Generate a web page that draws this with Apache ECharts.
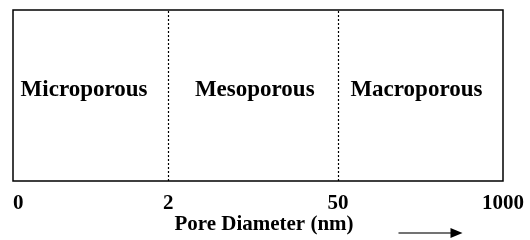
<!DOCTYPE html>
<html>
<head>
<meta charset="utf-8">
<script src="https://cdn.jsdelivr.net/npm/echarts@6/dist/echarts.min.js"></script>
<style>
  html, body { margin: 0; padding: 0; background: #fff; }
  #chart { width: 530px; height: 240px; }
</style>
</head>
<body>
<div id="chart"></div>
<script>
// boundaries of the pore size classes (nm); the drawing is schematic,
// so each boundary gets a position along the axis
const tickLabels = ["0", "2", "50", "1000"];
const tickPositions = [0, 0.95, 1.99, 3];
const regionNames = ["Microporous", "Mesoporous", "Macroporous"];
const regionX = [0.435, 1.48, 2.47];
const regionY = [0.53, 0.53, 0.53];
const axisTitle = "Pore Diameter (nm)";

const serif = "'Liberation Serif', 'Times New Roman', serif";

const chart = echarts.init(document.getElementById("chart"));

const regionData = regionNames.map((name, i) => ({
  name: name,
  value: [regionX[i], regionY[i]],
}));

// inner boundaries get the dotted separators
const dividers = tickPositions.slice(1, -1).map((x) => ({ xAxis: x }));

const option = {
  animation: false,
  backgroundColor: "#fff",
  grid: {
    left: 13,
    right: 27,
    top: 10,
    bottom: 59,
    outerBoundsMode: "none",
    containLabel: false,
    show: true,
    borderColor: "#000",
    borderWidth: 1.5,
  },
  xAxis: {
    type: "value",
    min: tickPositions[0],
    max: tickPositions[tickPositions.length - 1],
    name: axisTitle,
    nameLocation: "middle",
    nameGap: 33,
    nameMoveOverlap: false,
    nameTextStyle: {
      fontFamily: serif,
      fontWeight: "bold",
      fontSize: 21,
      color: "#000",
      padding: [0, 0, 0, 12],
    },
    axisLine: { show: false },
    axisTick: { show: false },
    splitLine: { show: false },
    axisLabel: {
      customValues: tickPositions,
      margin: 12,
      fontFamily: serif,
      fontWeight: "bold",
      fontSize: 21,
      color: "#000",
      alignMinLabel: "left",
      formatter: (v) => {
        const i = tickPositions.findIndex((p) => Math.abs(p - v) < 1e-6);
        return i >= 0 ? tickLabels[i] : "";
      },
    },
  },
  yAxis: {
    type: "value",
    min: 0,
    max: 1,
    show: false,
    splitLine: { show: false },
  },
  series: [
    {
      type: "scatter",
      data: regionData,
      symbolSize: 0,
      silent: true,
      itemStyle: { opacity: 1 },
      label: {
        show: true,
        position: "inside",
        formatter: (p) => p.name,
        fontFamily: serif,
        fontWeight: "bold",
        fontSize: 23,
        color: "#000",
        opacity: 1,
      },
      markLine: {
        silent: true,
        symbol: "none",
        label: { show: false },
        lineStyle: { color: "#000", type: [2, 2], width: 1.2 },
        data: dividers,
      },
    },
  ],
  graphic: [
    {
      type: "group",
      left: 396,
      top: 228,
      children: [
        {
          type: "line",
          shape: { x1: 0, y1: 6, x2: 53, y2: 6 },
          style: { stroke: "#444", lineWidth: 1.5 },
        },
        {
          type: "polygon",
          shape: { points: [[52, 1], [64, 6], [52, 11]] },
          style: { fill: "#000" },
        },
      ],
    },
  ],
};

option && chart.setOption(option);
</script>
</body>
</html>
